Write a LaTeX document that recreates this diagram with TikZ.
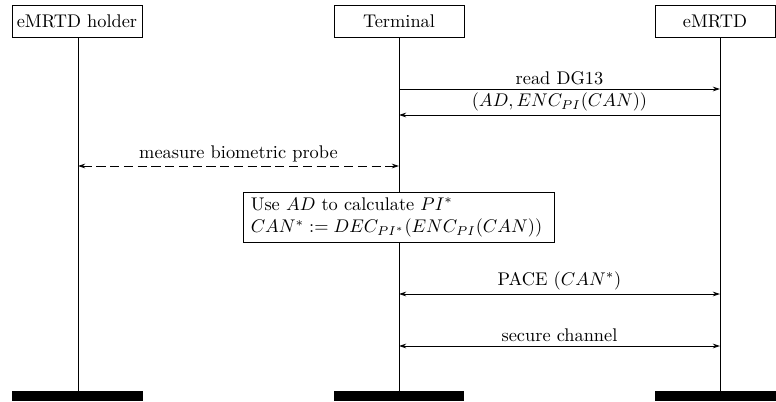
\documentclass[tikz,border=0pt]{standalone}
\usetikzlibrary{arrows.meta}
\begin{document}
\begin{tikzpicture}[x=0.545pt,y=-0.545pt,
  actor/.style={draw,line width=0.45pt,minimum width=130*0.545pt,minimum height=32*0.545pt,inner sep=0pt,anchor=center},
  bar/.style={fill=black,draw=none},
  life/.style={line width=0.45pt},
  tip/.tip={Stealth[length=4pt,width=2.6pt]},
  msg/.style={line width=0.45pt,-tip},
  bimsg/.style={line width=0.45pt,tip-tip},
  lbl/.style={anchor=south,inner sep=2pt}
]
\useasboundingbox (0,0) rectangle (776,401);
% actors
\node[actor] (holder) at (77,21) {eMRTD holder};
\node[actor] (term) at (399,21) {Terminal};
\node[actor,minimum width=120*0.545pt] (mrtd) at (715,21) {eMRTD};
% bottom bars
\fill[bar] (12,391) rectangle (143,401);
\fill[bar] (334,391) rectangle (464,401);
\fill[bar] (655,391) rectangle (776,401);
\coordinate (hb) at (78,391);
\coordinate (tb) at (399,391);
\coordinate (mb) at (720,391);
\coordinate (ht) at (78,37);
\coordinate (tt) at (399,37);
\coordinate (mt) at (720,37);
% middle box
\node[draw,line width=0.45pt,align=left,anchor=north west,inner xsep=4pt,inner ysep=3pt,text width=312*0.545pt-8.5pt,minimum height=48*0.545pt] (calc) at (243,192)
  {Use $AD$ to calculate $PI^*$\\ $CAN^* := DEC_{PI^*}(ENC_{PI}(CAN))$};
% lifelines
\draw[life] (ht) -- (hb);
\draw[life] (tt) -- (tt |- calc.north);
\draw[life] (tt |- calc.south) -- (tb);
\draw[life] (mt) -- (mb);
% messages
\coordinate (t1) at (399,89); \coordinate (m1) at (720,89);
\coordinate (t2) at (399,115); \coordinate (m2) at (720,115);
\coordinate (h3) at (78,166); \coordinate (t3) at (399,166);
\coordinate (t4) at (399,294); \coordinate (m4) at (720,294);
\coordinate (t5) at (399,346); \coordinate (m5) at (720,346);
\draw[msg] (t1) -- node[lbl] {read DG13} (m1);
\draw[msg] (m2) -- node[lbl] {$(AD, ENC_{PI}(CAN))$} (t2);
\draw[bimsg,dash pattern=on 5pt off 2.5pt] (h3) -- node[lbl] {measure biometric probe} (t3);
\draw[bimsg] (t4) -- node[lbl] {PACE ($CAN^*$)} (m4);
\draw[bimsg] (t5) -- node[lbl] {secure channel} (m5);
\end{tikzpicture}
\end{document}
